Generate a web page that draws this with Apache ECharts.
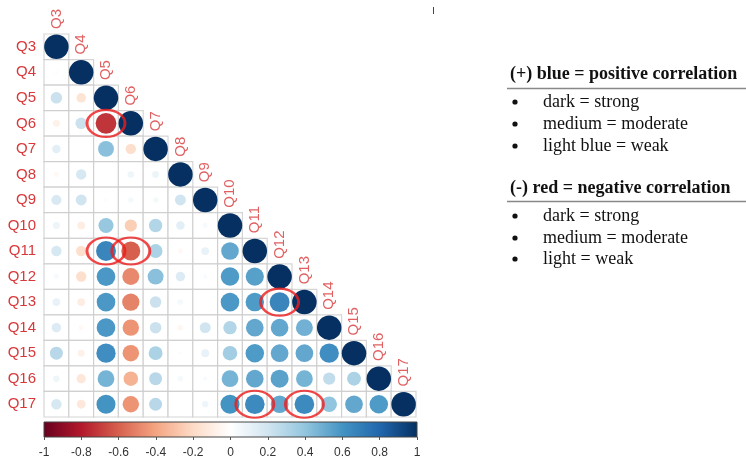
<!DOCTYPE html>
<html><head><meta charset="utf-8">
<script src="https://cdn.jsdelivr.net/npm/echarts@6/dist/echarts.min.js"></script>
<style>html,body{margin:0;padding:0;background:#fff}#c{width:746px;height:464px}</style>
</head><body><div id="c"></div>
<script>
// Variables
const labels = ['Q3','Q4','Q5','Q6','Q7','Q8','Q9','Q10','Q11','Q12','Q13','Q14','Q15','Q16','Q17'];
// Lower-triangular correlation rows (row i = labels[i], columns Q3..labels[i])
const rowQ3  = [1];
const rowQ4  = [0.02, 1];
const rowQ5  = [0.22, -0.15, 1];
const rowQ6  = [-0.08, 0.22, -0.72, 1];
const rowQ7  = [0.12, 0.0, 0.42, -0.18, 1];
const rowQ8  = [-0.04, 0.18, 0.0, 0.07, 0.08, 1];
const rowQ9  = [0.17, 0.2, 0.02, 0.05, 0.05, 0.2, 1];
const rowQ10 = [0.08, -0.1, 0.38, -0.25, 0.3, 0.12, 0.04, 1];
const rowQ11 = [0.18, -0.18, 0.66, -0.6, 0.32, -0.04, 0.1, 0.52, 1];
const rowQ12 = [0.04, -0.18, 0.58, -0.48, 0.42, 0.15, 0.03, 0.57, 0.55, 1];
const rowQ13 = [0.1, -0.1, 0.58, -0.5, 0.22, 0.05, 0.0, 0.58, 0.57, 0.66, 1];
const rowQ14 = [0.15, -0.04, 0.58, -0.45, 0.22, -0.05, 0.2, 0.3, 0.52, 0.52, 0.48, 1];
const rowQ15 = [0.28, -0.08, 0.62, -0.45, 0.32, 0.02, 0.1, 0.35, 0.57, 0.52, 0.52, 0.62, 1];
const rowQ16 = [0.07, -0.14, 0.47, -0.35, 0.28, 0.05, 0.03, 0.47, 0.52, 0.54, 0.47, 0.25, 0.32, 1];
const rowQ17 = [0.18, -0.13, 0.6, -0.45, 0.28, 0.0, 0.07, 0.6, 0.64, 0.52, 0.64, 0.4, 0.52, 0.57, 1];
const corrRows = [rowQ3,rowQ4,rowQ5,rowQ6,rowQ7,rowQ8,rowQ9,rowQ10,rowQ11,rowQ12,rowQ13,rowQ14,rowQ15,rowQ16,rowQ17];
// Highlighted cells [column, row]
const highlights = [['Q5','Q6'],['Q5','Q11'],['Q6','Q11'],['Q12','Q13'],['Q11','Q17'],['Q13','Q17']];
// Colour scale (RdBu) and colour bar ticks
const palette = ['#67001F','#B2182B','#D6604D','#F4A582','#FDDBC7','#FFFFFF','#D1E5F0','#92C5DE','#4393C3','#2166AC','#053061'];
const barMin = -1, barMax = 1, barStep = 0.2;

const G = {left:44, top:34, width:372, height:383};
const cw = G.width / labels.length, ch = G.height / labels.length;
const LABEL_RED = '#d8383a';
const sans = '"Liberation Sans", Arial, sans-serif';

const points = [], cells = [], diag = [];
corrRows.forEach((row, i) => {
  row.forEach((v, j) => {
    points.push([labels[j], labels[i], v]);
    cells.push([labels[j], labels[i]]);
  });
  diag.push([labels[i], labels[i]]);
});

const chart = echarts.init(document.getElementById('c'), null, {renderer:'canvas'});
const serif = '"Liberation Serif", "Times New Roman", serif';
const txt = (t, x, y, bold) => ({type:'text', style:{text:t, x:x, y:y, font:(bold?'bold ':'')+'18px '+serif, fill:'#111', textVerticalAlign:'middle'}});
const bullet = (x, y) => ({type:'circle', shape:{cx:x, cy:y, r:2.6}, style:{fill:'#111'}});
const line = (x1,y1,x2,y2,c,w) => ({type:'line', shape:{x1,y1,x2,y2}, style:{stroke:c, lineWidth:w}});

chart.setOption({
  animation:false,
  backgroundColor:'#fff',
  grid:[
    {left:G.left, top:G.top, width:G.width, height:G.height, containLabel:false},
    {left:44, top:422, width:373, height:15, show:true, borderColor:'#444', borderWidth:1,
     backgroundColor:{type:'linear', x:0, y:0, x2:1, y2:0,
       colorStops: palette.map((c,i)=>({offset:i/(palette.length-1), color:c}))}}
  ],
  xAxis:[
    {type:'category', data:labels, gridIndex:0, show:false},
    {type:'value', gridIndex:1, min:barMin, max:barMax, interval:barStep,
     axisLine:{show:false}, splitLine:{show:false},
     axisTick:{show:true, length:3, lineStyle:{color:'#555'}},
     axisLabel:{color:'#333', fontSize:12, margin:10, fontFamily:sans}}
  ],
  yAxis:[
    {type:'category', data:labels, inverse:true, gridIndex:0,
     axisLine:{show:false}, axisTick:{show:false}, splitLine:{show:false},
     axisLabel:{color:LABEL_RED, fontSize:15, margin:8, fontFamily:sans}},
    {type:'value', gridIndex:1, show:false, min:0, max:1}
  ],
  visualMap:{type:'continuous', show:false, min:-1, max:1, dimension:2, seriesIndex:1, inRange:{color:palette}},
  series:[
    {type:'scatter', xAxisIndex:0, yAxisIndex:0, data:cells, symbol:'rect', symbolSize:[cw, ch], silent:true, z:1,
     itemStyle:{color:'#fff', borderColor:'#cbcbcb', borderWidth:1.2}},
    {type:'scatter', xAxisIndex:0, yAxisIndex:0, data:points, silent:true, z:2,
     symbolSize: v => 24.5*Math.sqrt(Math.abs(v[2])),
     itemStyle:{opacity:1}},
    {type:'scatter', xAxisIndex:0, yAxisIndex:0, data:diag, symbol:'rect', symbolSize:[cw, ch], silent:true, z:3,
     itemStyle:{color:'rgba(0,0,0,0)'},
     label:{show:true, formatter:p=>p.value[0], position:[cw/2, -5], rotate:90, align:'left', verticalAlign:'middle',
            color:LABEL_RED, fontSize:15, fontFamily:sans}},
    {type:'scatter', xAxisIndex:0, yAxisIndex:0, data:highlights, symbol:'circle', symbolSize:[38, 27], silent:true, z:5,
     itemStyle:{color:'rgba(0,0,0,0)', borderColor:'#ee1c1c', borderWidth:2.5}}
  ],
  graphic:[
    txt('(+) blue = positive correlation', 510, 74, true),
    line(507, 88.5, 746, 88.5, '#888', 1.5),
    bullet(515, 102), txt('dark = strong', 543, 102),
    bullet(515, 124), txt('medium = moderate', 543, 124),
    bullet(515, 146), txt('light blue = weak', 543, 146),
    txt('(-) red = negative correlation', 510, 188, true),
    line(507, 201.5, 746, 201.5, '#888', 1.5),
    bullet(515, 216), txt('dark = strong', 543, 216),
    bullet(515, 238), txt('medium = moderate', 543, 238),
    bullet(515, 259), txt('light = weak', 543, 259),
    line(433.5, 7, 433.5, 14, '#444', 1)
  ]
});
</script></body></html>
